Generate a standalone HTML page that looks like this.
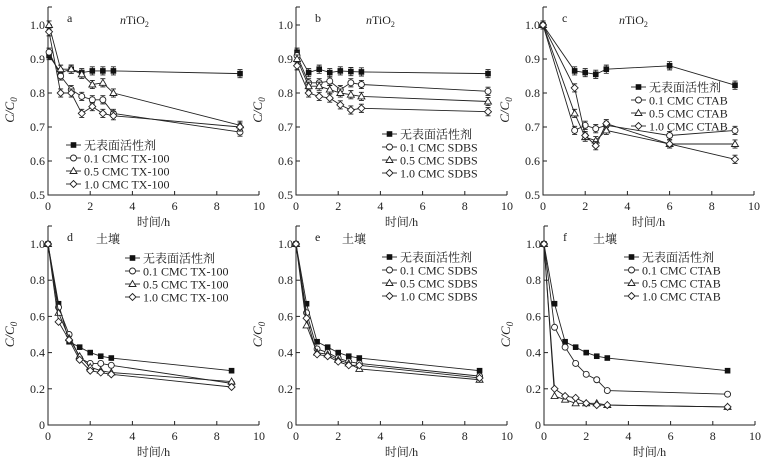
<!DOCTYPE html>
<html><head><meta charset="utf-8"><style>
body{margin:0;background:#fff}
svg{display:block}
text{font-family:"Liberation Serif","Noto Serif CJK SC",serif;fill:#222}
</style></head><body>
<svg id="c" width="765" height="461" xmlns="http://www.w3.org/2000/svg"></svg>
<script>
const tTop=[0.05,0.6,1.1,1.6,2.1,2.6,3.1,9.1];
const tC=[0,1.5,2,2.5,3,6,9.1];
const tBot=[0,0.5,1,1.5,2,2.5,3,8.7];
const aNone=[0.91,0.86,0.87,0.86,0.865,0.865,0.865,0.857];
const a01=[0.92,0.85,0.81,0.79,0.78,0.78,0.74,0.685];
const a05=[1.0,0.87,0.87,0.855,0.825,0.83,0.80,0.705];
const a10=[0.98,0.80,0.80,0.74,0.76,0.74,0.733,0.70];
const bNone=[0.92,0.86,0.87,0.86,0.865,0.863,0.862,0.857];
const b01=[0.91,0.83,0.83,0.835,0.81,0.83,0.825,0.805];
const b05=[0.90,0.82,0.82,0.81,0.80,0.795,0.79,0.775];
const b10=[0.88,0.80,0.79,0.785,0.765,0.75,0.755,0.745];
const cNone=[1.0,0.865,0.86,0.855,0.87,0.88,0.823];
const c01=[1.0,0.69,0.705,0.695,0.705,0.675,0.69];
const c05=[1.0,0.74,0.67,0.66,0.69,0.65,0.65];
const c10=[1.0,0.815,0.675,0.645,0.71,0.65,0.605];
const dNone=[1,0.67,0.46,0.43,0.40,0.38,0.37,0.30];
const d01=[1,0.65,0.50,0.37,0.34,0.34,0.33,0.23];
const d05=[1,0.62,0.48,0.38,0.32,0.30,0.29,0.24];
const d10=[1,0.57,0.47,0.36,0.30,0.29,0.28,0.21];
const eNone=[1,0.67,0.46,0.43,0.40,0.38,0.37,0.30];
const e01=[1,0.62,0.42,0.40,0.37,0.35,0.34,0.27];
const e05=[1,0.55,0.40,0.39,0.36,0.34,0.31,0.25];
const e10=[1,0.59,0.39,0.38,0.35,0.33,0.33,0.26];
const fNone=[1,0.67,0.46,0.43,0.40,0.38,0.37,0.30];
const f01=[1,0.54,0.43,0.34,0.28,0.25,0.19,0.17];
const f05=[1,0.16,0.14,0.12,0.12,0.12,0.11,0.10];
const f10=[1,0.20,0.16,0.15,0.12,0.11,0.11,0.10];
const xTicks=[0,2,4,6,8,10];
const yTicksTop=[0.5,0.6,0.7,0.8,0.9,1.0];
const yTicksBot=[0,0.2,0.4,0.6,0.8,1.0];
const yTickLabTop=['0.5','0.6','0.7','0.8','0.9','1.0'];
const yTickLabBot=['0','0.2','0.4','0.6','0.8','1.0'];

const NS='http://www.w3.org/2000/svg';
const svg=document.getElementById('c');
function el(tag,at,parent){const e=document.createElementNS(NS,tag);for(const k in at)e.setAttribute(k,at[k]);(parent||svg).appendChild(e);return e;}
function txt(s,x,y,at,parent){const e=el('text',Object.assign({x:x,y:y},at),parent);e.textContent=s;return e;}

function marker(g,type,x,y){
  if(type==='sq') return el('rect',{x:x-2.8,y:y-2.8,width:5.6,height:5.6,fill:'#111'},g);
  if(type==='ci') return el('circle',{cx:x,cy:y,r:3,fill:'#fff',stroke:'#222','stroke-width':0.9},g);
  if(type==='tr') return el('polygon',{points:`${x},${y-3.5} ${x-3.5},${y+2.5} ${x+3.5},${y+2.5}`,fill:'#fff',stroke:'#222','stroke-width':0.9},g);
  return el('polygon',{points:`${x},${y-3.5} ${x+3.5},${y} ${x},${y+3.5} ${x-3.5},${y}`,fill:'#fff',stroke:'#222','stroke-width':0.9},g);
}

function panel(o){
  const g=el('g',{});
  
  
  const X=v=>o.x0+v*21.1;
  const Y=v=>o.yb-(v-o.ymin)/(o.ymax-o.ymin)*(o.yb-o.yt);
  const top=o.yt-18;
  const ax=el('path',{d:`M${X(0)},${top} H${X(0)+4} M${X(0)},${top} V${o.yb} H${X(10)}`,fill:'none',stroke:'#222','stroke-width':1},g);
  
  
  xTicks.forEach(t=>{
    el('line',{x1:X(t),x2:X(t),y1:o.yb,y2:o.yb-4,stroke:'#222'},g);
    const l=txt(String(t),X(t),o.yb+15,{'font-size':12,'text-anchor':'middle'},g);
    
    
  });
  o.yt_.forEach((t,i)=>{
    el('line',{x1:X(0),x2:X(0)+4,y1:Y(t),y2:Y(t),stroke:'#222'},g);
    const l=txt(o.yl[i],X(0)-3,Y(t)+4,{'font-size':12,'text-anchor':'end'},g);
    
    
  });
  const xt=txt('时间/h',X(5),o.yb+31,{'font-size':12,'text-anchor':'middle'},g);
  
  
  const yt=el('text',{x:0,y:0,'font-size':13,'font-style':'italic','text-anchor':'middle',transform:`translate(${X(0)-34},${(o.yt+o.yb)/2}) rotate(-90)`},g);
  yt.innerHTML='C/C<tspan font-size="9" dy="3">0</tspan>';
  
  
  const pl=txt(o.id,X(0)+19,top+15,{'font-size':12},g);
  
  
  const ti=el('text',{x:X(0)+o.tx,y:top+17,'font-size':12},g);
  ti.innerHTML=o.title;
  
  
  const types=['sq','ci','tr','di'];
  o.series.forEach((s,k)=>{
    const sg=el('g',{},g);
    
    
    const pts=s.map((v,i)=>X(o.t[i])+','+Y(v)).join(' ');
    el('polyline',{points:pts,fill:'none',stroke:'#222','stroke-width':0.9},sg);
    s.forEach((v,i)=>{
      if(o.err){el('path',{d:`M${X(o.t[i])},${Y(v+o.err)} V${Y(v-o.err)} M${X(o.t[i])-2.5},${Y(v+o.err)} h5 M${X(o.t[i])-2.5},${Y(v-o.err)} h5`,stroke:'#222','stroke-width':0.9,fill:'none'},sg);}
      const m=marker(sg,types[k],X(o.t[i]),Y(v));
      
      
    });
  });
  const lg=el('g',{},g);
  
  
  o.labels.forEach((lab,k)=>{
    const y=o.ly+k*13;
    const e=el('g',{},lg);
    
    
    el('line',{x1:o.lx,x2:o.lx+15,y1:y,y2:y,stroke:'#222','stroke-width':0.9},e);
    marker(e,types[k],o.lx+7.5,y);
    txt(lab,o.lx+18,y+4.5,{'font-size':12},e);
  });
}
const TI='<tspan font-style="italic">n</tspan>TiO<tspan font-size="8" dy="3">2</tspan>';
panel({id:'a',x0:48,yt:25,yb:195,ymin:0.5,ymax:1.0,yt_:yTicksTop,yl:yTickLabTop,t:tTop,series:[aNone,a01,a05,a10],err:0.012,title:TI,tx:72,lx:66,ly:145,labels:['无表面活性剂','0.1 CMC TX-100','0.5 CMC TX-100','1.0 CMC TX-100']});
panel({id:'b',x0:296,yt:25,yb:195,ymin:0.5,ymax:1.0,yt_:yTicksTop,yl:yTickLabTop,t:tTop,series:[bNone,b01,b05,b10],err:0.012,title:TI,tx:70,lx:382,ly:134,labels:['无表面活性剂','0.1 CMC SDBS','0.5 CMC SDBS','1.0 CMC SDBS']});
panel({id:'c',x0:543,yt:25,yb:195,ymin:0.5,ymax:1.0,yt_:yTicksTop,yl:yTickLabTop,t:tC,series:[cNone,c01,c05,c10],err:0.012,title:TI,tx:76,lx:631,ly:87,labels:['无表面活性剂','0.1 CMC CTAB','0.5 CMC CTAB','1.0 CMC CTAB']});
const TS='土壤';
panel({id:'d',x0:48,yt:244,yb:425,ymin:0,ymax:1.0,yt_:yTicksBot,yl:yTickLabBot,t:tBot,series:[dNone,d01,d05,d10],err:0,title:TS,tx:48,lx:125,ly:258,labels:['无表面活性剂','0.1 CMC TX-100','0.5 CMC TX-100','1.0 CMC TX-100']});
panel({id:'e',x0:296,yt:244,yb:425,ymin:0,ymax:1.0,yt_:yTicksBot,yl:yTickLabBot,t:tBot,series:[eNone,e01,e05,e10],err:0,title:TS,tx:46,lx:382,ly:257,labels:['无表面活性剂','0.1 CMC SDBS','0.5 CMC SDBS','1.0 CMC SDBS']});
panel({id:'f',x0:544,yt:244,yb:425,ymin:0,ymax:1.0,yt_:yTicksBot,yl:yTickLabBot,t:tBot,series:[fNone,f01,f05,f10],err:0,title:TS,tx:49,lx:624,ly:257,labels:['无表面活性剂','0.1 CMC CTAB','0.5 CMC CTAB','1.0 CMC CTAB']});
</script>
</body></html>
